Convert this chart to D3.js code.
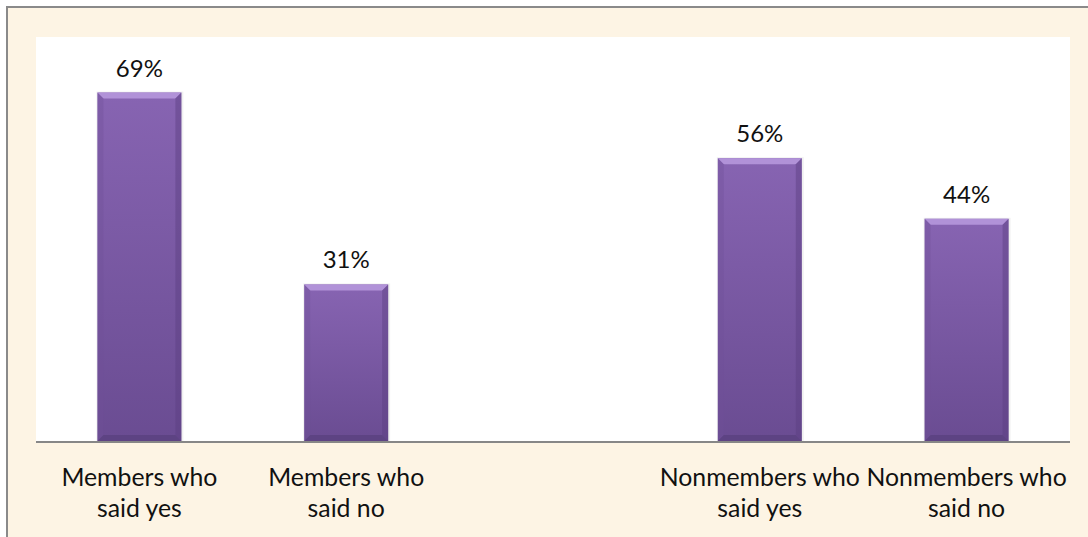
<!DOCTYPE html>
<meta charset="utf-8">
<style>
  body { margin: 0; background: #fff; }
  svg text { font-family: Lato, "Open Sans", sans-serif; fill: #111; }
</style>
<body>
<script src="https://d3js.org/d3.v7.min.js"></script>
<script>
// chart data
const categories = ['Members who|said yes', 'Members who|said no', '', 'Nonmembers who|said yes', 'Nonmembers who|said no'];
const values = [69, 31, null, 56, 44];
const valueLabels = ['69%', '31%', '', '56%', '44%'];

const width = 1088, height = 537;
const plot = { left: 36, right: 1070, top: 37, bottom: 441 };

const svg = d3.select('body').append('svg')
    .attr('width', width)
    .attr('height', height);

const defs = svg.append('defs');
const grad = defs.append('linearGradient')
    .attr('id', 'barFill').attr('x1', 0).attr('y1', 0).attr('x2', 0).attr('y2', 1);
grad.append('stop').attr('offset', '0%').attr('stop-color', '#8764b2');
grad.append('stop').attr('offset', '100%').attr('stop-color', '#6a4c92');

// parchment background + frame
svg.append('rect')
    .attr('x', 7).attr('y', 7)
    .attr('width', width - 7).attr('height', height - 7)
    .attr('fill', '#fdf4e4');
svg.append('path')
    .attr('d', `M7,${height} V7 H${width}`)
    .attr('fill', 'none').attr('stroke', '#8a8a8a').attr('stroke-width', 2);

// plot area
svg.append('rect')
    .attr('x', plot.left).attr('y', plot.top)
    .attr('width', plot.right - plot.left).attr('height', plot.bottom - plot.top)
    .attr('fill', '#fff');

const x = d3.scaleBand()
    .domain(d3.range(categories.length))
    .range([plot.left, plot.right])
    .padding(0);
const y = d3.scaleLinear().domain([0, 80]).range([plot.bottom, plot.top]);

const barW = x.bandwidth() * 0.406;
const bev = 6;

const bars = svg.selectAll('.bar')
  .data(values.map((v, i) => ({ v, i })).filter(d => d.v != null))
  .enter().append('g')
    .attr('class', 'bar')
    .attr('transform', d => `translate(${x(d.i) + x.bandwidth() / 2 - barW / 2},0)`);

// soft shadow
bars.append('rect')
    .attr('x', -1).attr('y', d => y(d.v) - 1)
    .attr('width', barW + 3).attr('height', d => y(0) - y(d.v) + 1)
    .attr('fill', '#000').attr('opacity', 0.06);

bars.append('rect')
    .attr('x', 0).attr('y', d => y(d.v))
    .attr('width', barW).attr('height', d => y(0) - y(d.v))
    .attr('fill', 'url(#barFill)');

// bevel edges
bars.append('path')
    .attr('d', d => { const t = y(d.v); return `M0,${t} H${barW} L${barW - bev},${t + bev} H${bev} Z`; })
    .attr('fill', '#b192d8');
bars.append('path')
    .attr('d', d => { const t = y(d.v), b = y(0); return `M0,${t} L${bev},${t + bev} V${b - bev} L0,${b} Z`; })
    .attr('fill', '#6f4f98').attr('opacity', 0.35);
bars.append('path')
    .attr('d', d => { const t = y(d.v), b = y(0); return `M${barW},${t} L${barW - bev},${t + bev} V${b - bev} L${barW},${b} Z`; })
    .attr('fill', '#5a3f80').attr('opacity', 0.45);
bars.append('path')
    .attr('d', () => { const b = y(0); return `M0,${b} H${barW} L${barW - bev},${b - bev} H${bev} Z`; })
    .attr('fill', '#5a4180').attr('opacity', 0.8);

// value labels
bars.append('text')
    .attr('x', barW / 2)
    .attr('y', d => y(d.v) - 16)
    .attr('text-anchor', 'middle')
    .style('font-size', '24px')
    .text(d => valueLabels[d.i]);

// baseline
svg.append('line')
    .attr('x1', plot.left).attr('x2', plot.right)
    .attr('y1', y(0) + 1).attr('y2', y(0) + 1)
    .attr('stroke', '#878787').attr('stroke-width', 2);

// category labels
categories.forEach((c, i) => {
  if (!c) return;
  const t = svg.append('text')
      .attr('text-anchor', 'middle')
      .style('font-size', '24.8px');
  c.split('|').forEach((line, k) => {
    t.append('tspan')
        .attr('x', x(i) + x.bandwidth() / 2)
        .attr('y', 486 + k * 30.5)
        .text(line);
  });
});
</script>
